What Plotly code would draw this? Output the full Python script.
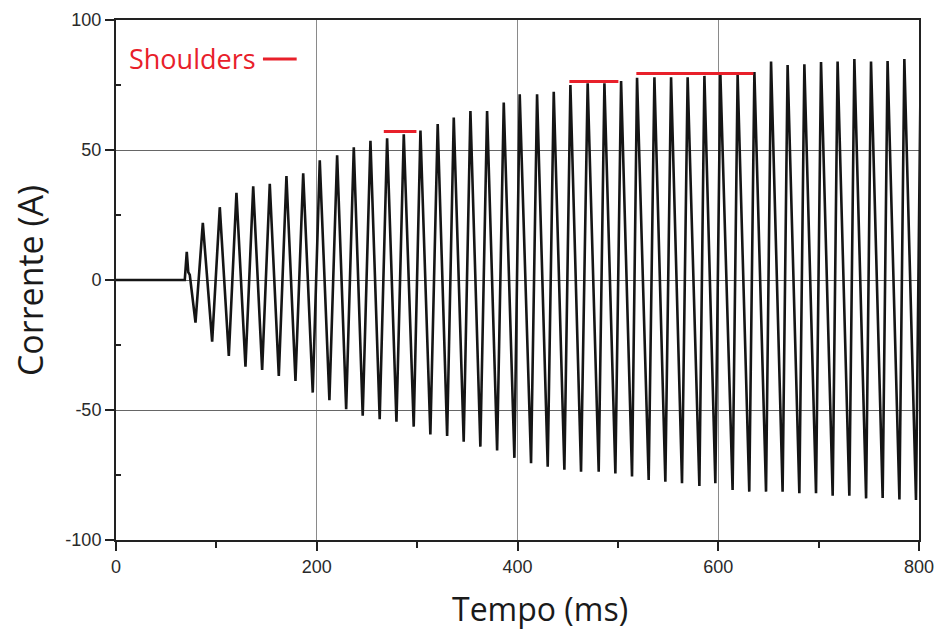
import plotly.graph_objects as go

# --- data ---
# flat lead-in and first transient spike (ms, A)
lead_t = [0, 68.5, 70.5, 72.0, 73.5]
lead_a = [0, 0, 10.8, 3.0, 2.0]

peak_t = [86.5, 103.4, 120.0, 136.7, 153.2, 169.8, 186.5, 203.0, 220.3, 236.9,
          253.5, 270.1, 286.7, 303.3, 320.5, 336.5, 353.1, 369.7, 386.3, 402.2,
          419.5, 436.1, 452.7, 469.9, 486.6, 503.2, 519.1, 536.4, 553.0, 569.5,
          586.2, 602.1, 619.3, 636.0, 652.6, 669.1, 685.8, 702.4, 718.9, 735.6,
          752.2, 768.7, 785.4, 801.8]
peak_a = [22.0, 28.0, 33.5, 36.0, 37.0, 40.0, 41.0, 46.0, 48.0, 51.0,
          53.5, 54.5, 56.0, 57.5, 60.0, 62.5, 65.0, 65.0, 68.3, 71.4,
          71.4, 72.4, 75.0, 75.7, 75.7, 76.5, 77.8, 78.0, 78.0, 78.0,
          78.5, 79.5, 78.8, 80.0, 84.0, 82.7, 83.0, 83.8, 84.0, 85.0,
          84.0, 84.2, 85.0, 85.0]

trough_t = [79.2, 95.8, 112.4, 129.0, 145.6, 162.2, 178.8, 196.0, 212.6, 229.3,
            245.8, 262.7, 279.4, 296.6, 313.2, 329.9, 346.4, 363.0, 379.7, 396.9,
            413.5, 430.1, 446.7, 463.3, 480.9, 497.5, 514.1, 530.7, 547.3, 563.9,
            581.2, 597.1, 614.3, 630.9, 647.6, 664.1, 680.8, 697.4, 714.0, 730.6,
            747.3, 763.8, 780.5, 797.0]
trough_a = [-16.4, -23.7, -29.2, -33.3, -34.6, -36.9, -38.8, -43.3, -46.2, -49.7,
            -52.2, -53.5, -54.5, -56.4, -59.4, -60.0, -62.2, -64.1, -65.6, -68.4,
            -70.5, -71.8, -73.0, -73.7, -73.7, -74.4, -75.6, -76.9, -77.6, -78.2,
            -79.2, -78.2, -80.8, -81.4, -81.4, -81.4, -82.0, -82.0, -83.0, -83.0,
            -84.0, -83.8, -84.4, -84.6]

# shoulder markers: start (ms), end (ms), level (A)
sh_start = [266.8, 451.7, 518.4]
sh_end = [299.3, 500.5, 635.0]
sh_level = [57.1, 76.3, 79.4]

x_ticks = [0, 200, 400, 600, 800]
x_ticktext = ["0", "200", "400", "600", "800"]
y_ticks = [-100, -50, 0, 50, 100]
y_ticktext = ["-100", "-50", "0", "50", "100"]

# --- build the waveform from the read extrema ---
pts = list(zip(lead_t, lead_a)) + list(zip(peak_t, peak_a)) + list(zip(trough_t, trough_a))
pts.sort(key=lambda p: p[0])
wave_t = [p[0] for p in pts]
wave_a = [p[1] for p in pts]

RED = "#e8202a"
TITLE_FONT = "Open Sans"
fig = go.Figure()
fig.add_trace(go.Scatter(x=wave_t, y=wave_a, mode="lines",
                         line=dict(color="#151515", width=2.6),
                         showlegend=False, hoverinfo="skip"))
for s, e, lv in zip(sh_start, sh_end, sh_level):
    fig.add_trace(go.Scatter(x=[s, e], y=[lv, lv], mode="lines",
                             line=dict(color=RED, width=3),
                             showlegend=False, hoverinfo="skip"))

# "Shoulders" key
fig.add_annotation(x=0.0137, y=0.925, xref="paper", yref="paper",
                   text="Shoulders", showarrow=False, xanchor="left", yanchor="middle",
                   font=dict(family=TITLE_FONT, size=27, color=RED))
fig.add_shape(type="line", xref="paper", yref="paper",
              x0=0.183, x1=0.225, y0=0.925, y1=0.925,
              line=dict(color=RED, width=3))

# axis titles
fig.add_annotation(x=0.528, y=-0.131, xref="paper", yref="paper",
                   text="Tempo (ms)", showarrow=False, xanchor="center", yanchor="middle",
                   font=dict(family=TITLE_FONT, size=32, color="#1a1a1a"))
fig.add_annotation(x=-0.107, y=0.498, xref="paper", yref="paper",
                   text="Corrente (A)", showarrow=False, xanchor="center", yanchor="middle",
                   textangle=-90,
                   font=dict(family=TITLE_FONT, size=34, color="#1a1a1a"))

axis_common = dict(showline=True, linecolor="#222", linewidth=2, mirror=True,
                   ticks="outside", ticklen=9, tickcolor="#222", tickwidth=1.5,
                   tickfont=dict(family="Liberation Sans, Arial", size=18, color="#2a2a2a"),
                   zeroline=False, automargin=False)

fig.update_xaxes(range=[0, 800], tickvals=x_ticks, ticktext=x_ticktext, showgrid=True,
                 gridcolor="#8a8a8a", gridwidth=1,
                 minor=dict(tickvals=[100, 300, 500, 700], ticks="outside", ticklen=6,
                            tickcolor="#222", showgrid=False),
                 **axis_common)
fig.update_yaxes(range=[-100, 100], tickvals=y_ticks, ticktext=y_ticktext, showgrid=True,
                 gridcolor="#666", gridwidth=1.3,
                 minor=dict(tickvals=[-75, -25, 25, 75], ticks="inside", ticklen=5,
                            tickcolor="#222", showgrid=False),
                 **axis_common)

fig.update_layout(width=941, height=632,
                  margin=dict(l=116, r=22, t=20, b=92),
                  paper_bgcolor="white", plot_bgcolor="white")

fig.write_html("out.html")
